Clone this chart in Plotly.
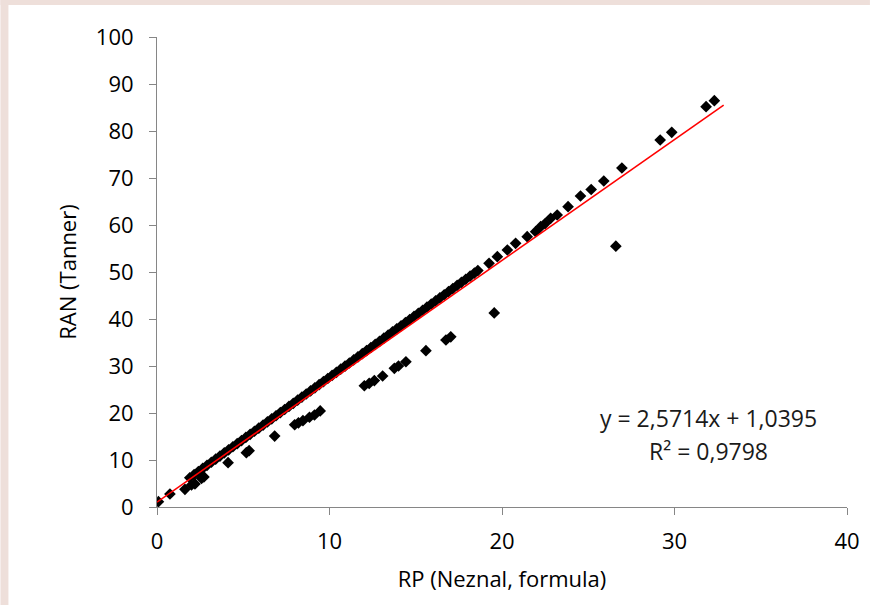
import plotly.graph_objects as go

# Main band (dense)
band_x = [0.08, 0.75, 1.9, 2.15, 2.4, 2.65, 2.9, 3.15, 3.4, 3.65, 3.9, 4.15, 4.4, 4.65, 4.9,
          5.15, 5.4, 5.65, 5.9, 6.15, 6.4, 6.65, 6.9, 7.15, 7.4, 7.65, 7.9, 8.15, 8.4, 8.65,
          8.9, 9.15, 9.4, 9.65, 9.9, 10.15, 10.4, 10.65, 10.9, 11.15, 11.4, 11.65, 11.9,
          12.15, 12.4, 12.65, 12.9, 13.15, 13.4, 13.65, 13.9, 14.15, 14.4, 14.65, 14.9,
          15.15, 15.4, 15.65, 15.9, 16.15, 16.4, 16.65, 16.9, 17.15, 17.4, 17.65, 17.9,
          18.15, 18.4, 18.6]
band_y = [1.13, 2.77, 6.22, 6.88, 7.54, 8.2, 8.86, 9.52, 10.18, 10.84, 11.5, 12.16, 12.82,
          13.48, 14.14, 14.8, 15.46, 16.12, 16.78, 17.44, 18.1, 18.76, 19.42, 20.08, 20.74,
          21.4, 22.06, 22.72, 23.38, 24.04, 24.7, 25.36, 26.02, 26.68, 27.34, 28.0, 28.66,
          29.32, 29.98, 30.64, 31.3, 31.96, 32.62, 33.28, 33.94, 34.6, 35.26, 35.92, 36.58,
          37.24, 37.9, 38.56, 39.22, 39.88, 40.54, 41.2, 41.86, 42.52, 43.18, 43.84, 44.5,
          45.16, 45.82, 46.48, 47.14, 47.8, 48.46, 49.12, 49.78, 50.3]

# Sparse points on the upper part of the line
upper_x = [19.25, 19.73, 20.31, 20.79, 21.46, 21.95, 22.24, 22.5, 22.82, 23.2, 23.83,
           24.55, 25.17, 25.9, 26.95, 29.17, 29.84, 31.83, 32.31]
upper_y = [51.85, 53.26, 54.68, 56.11, 57.51, 58.57, 59.64, 60.3, 61.43, 62.13, 63.89,
           66.17, 67.55, 69.36, 72.13, 78.09, 79.72, 85.17, 86.45]

# Points below the main line
low_x = [1.62, 2.0, 2.2, 2.58, 2.72, 4.12, 5.18, 5.34, 6.82, 7.98, 8.2, 8.46, 8.84, 9.13,
         9.46, 12.02, 12.3, 12.6, 13.08, 13.76, 14.0, 14.43, 15.59, 16.75, 17.03,
         19.55, 26.6]
low_y = [3.77, 4.68, 4.9, 6.1, 6.4, 9.43, 11.55, 11.98, 15.1, 17.5, 17.9, 18.37, 19.1,
         19.57, 20.45, 25.8, 26.3, 26.9, 27.87, 29.5, 30.0, 30.9, 33.26, 35.53, 36.2,
         41.3, 55.5]

# Linear trendline
slope = 2.5714
intercept = 1.0395
trend_x = [0.0, 32.85]
trend_y = [slope * v + intercept for v in trend_x]

x_ticks = [0, 10, 20, 30, 40]
y_ticks = [0, 10, 20, 30, 40, 50, 60, 70, 80, 90, 100]

eq_line1 = "y = 2,5714x + 1,0395"
eq_line2 = "R² = 0,9798"

all_x = band_x + upper_x + low_x
all_y = band_y + upper_y + low_y

FONT = "Open Sans"
fig = go.Figure()
fig.add_trace(go.Scatter(
    x=all_x, y=all_y, mode="markers",
    marker=dict(symbol="diamond", size=9, color="black", line=dict(width=0)),
    showlegend=False, hoverinfo="x+y"))
fig.add_trace(go.Scatter(
    x=trend_x, y=trend_y, mode="lines",
    line=dict(color="#FF0000", width=1.6), showlegend=False, hoverinfo="skip"))

pw, ph = 692.0, 470.0
fig.add_annotation(
    x=(710 - 157) / pw, y=(507 - 418) / ph, xref="paper", yref="paper",
    xanchor="center", yanchor="middle", text=eq_line1, showarrow=False,
    font=dict(family=FONT, size=23, color="#1a1a1a"))
fig.add_annotation(
    x=(710 - 157) / pw, y=(507 - 451) / ph, xref="paper", yref="paper",
    xanchor="center", yanchor="middle", text=eq_line2, showarrow=False,
    font=dict(family=FONT, size=23, color="#1a1a1a"))

# pink border strips (left and top)
fig.add_shape(type="rect", xref="paper", yref="paper",
              x0=-157 / pw, x1=(8 - 157) / pw, y0=(507 - 605) / ph, y1=507 / ph,
              fillcolor="#EEDFDA", line=dict(width=0), layer="below")
fig.add_shape(type="rect", xref="paper", yref="paper",
              x0=-157 / pw, x1=(872 - 157) / pw, y0=(507 - 5) / ph, y1=507 / ph,
              fillcolor="#EEDFDA", line=dict(width=0), layer="below")

axis_common = dict(
    showgrid=False, zeroline=False, showline=True, linecolor="#868686", linewidth=1,
    ticks="outside", ticklen=7, tickcolor="#868686", tickwidth=1,
    tickfont=dict(family=FONT, size=22, color="black"),
    title_font=dict(family=FONT, size=22, color="black"),
)
fig.update_xaxes(range=[0, 40], tickvals=x_ticks, title_text="RP (Neznal, formula)",
                 ticklabelstandoff=8, title_standoff=17, **axis_common)
fig.update_yaxes(range=[0, 100], tickvals=y_ticks, title_text="RAN (Tanner)",
                 ticklabelstandoff=11, title_standoff=13, **axis_common)

fig.update_layout(
    width=872, height=605,
    margin=dict(l=157, r=23, t=37, b=98),
    paper_bgcolor="white", plot_bgcolor="white",
    font=dict(family=FONT),
)
fig.write_html("out.html", config={"displayModeBar": False},
               post_script="document.body.style.margin='0';")
